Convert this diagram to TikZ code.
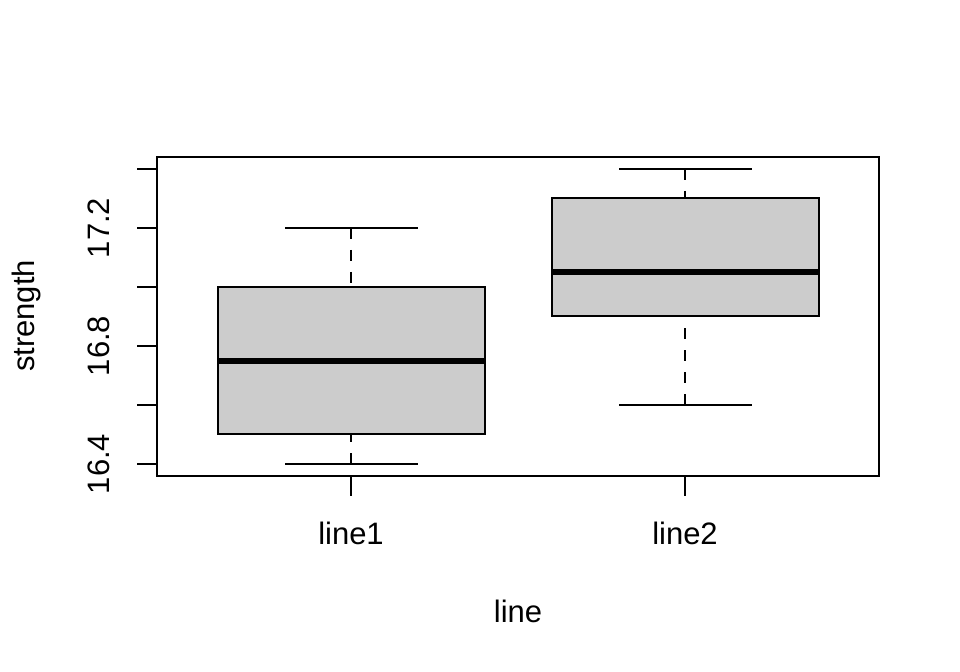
\documentclass[tikz,border=0pt]{standalone}
\usepackage{fontspec}
\setmainfont{Liberation Sans}
\begin{document}
\begin{tikzpicture}[x=0.5pt,y=-0.5pt,
  lab/.style={font=\fontsize{15.5}{18}\selectfont, inner sep=0pt},
  frame/.style={line width=1pt},
  bx/.style={line width=1pt, fill={rgb,255:red,204;green,204;blue,204}},
  med/.style={line width=3.2pt},
  whisk/.style={line width=1pt, dash pattern=on 5.5pt off 5.5pt},
  capline/.style={line width=1pt},
  tick/.style={line width=1pt}]
\useasboundingbox (0,0) rectangle (960,672);
% frame
\draw[frame] (157,157) rectangle (879,476);
% y ticks
\foreach \v/\y in {16.4/464,16.6/405,16.8/346,17.0/287,17.2/228,17.4/169}
  \draw[tick] (137,\y) -- (157,\y);
% y tick labels
\node[lab, rotate=90] (t164) at (99,464) {16.4};
\node[lab, rotate=90] (t168) at (99,346) {16.8};
\node[lab, rotate=90] (t172) at (99,228) {17.2};
% x ticks
\draw[tick] (351,476) -- (351,496);
\draw[tick] (685,476) -- (685,496);
% box 1
\draw[whisk] (351,464) -- (351,434);
\draw[whisk] (351,228) -- (351,287);
\draw[capline] (285,464) -- (418,464);
\draw[capline] (285,228) -- (418,228);
\draw[bx] (218,287) rectangle (485,434);
\draw[med] (218,361) -- (485,361);
% box 2
\draw[whisk] (685,405) -- (685,316);
\draw[whisk] (685,169) -- (685,198);
\draw[capline] (619,405) -- (752,405);
\draw[capline] (619,169) -- (752,169);
\draw[bx] (552,198) rectangle (819,316);
\draw[med] (552,272) -- (819,272);
% labels
\node[lab, anchor=base] (l1) at (351,545) {line1};
\node[lab, anchor=base] (l2) at (685,545) {line2};
\node[lab, anchor=base] (xl) at (518,623) {line};
\node[lab, rotate=90, anchor=base] (yl) at (34,316) {strength};
\end{tikzpicture}
\end{document}
